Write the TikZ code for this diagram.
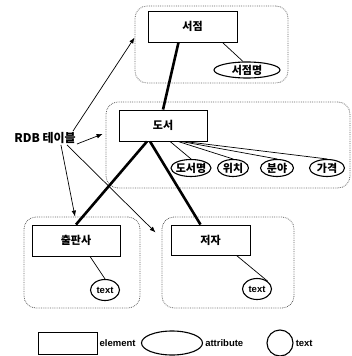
\documentclass[tikz,border=0pt]{standalone}
\usepackage{fontspec}
\setmainfont{Liberation Sans}
\newfontfamily\kr{Noto Sans CJK KR}
\usetikzlibrary{shapes.geometric,arrows.meta}
\newcommand{\krFont}[0]{\kr\bfseries\fontsize{11}{13}\selectfont}
\newcommand{\keyFont}[0]{\bfseries\fontsize{9.5}{11}\selectfont}

\begin{document}
\begin{tikzpicture}[x=1pt, y=-1pt]
  \tikzset{
    grp/.style={draw=black!60, densely dotted, line width=0.8pt, rounded corners=12pt, inner sep=0pt},
    elem/.style={draw, line width=0.9pt, fill=white, inner sep=0pt, font=\krFont},
    attr/.style={ellipse, draw, line width=1.1pt, fill=white, inner sep=-3pt, minimum height=17pt, font=\krFont},
    txt/.style={ellipse, draw, line width=1.1pt, fill=white, inner sep=-2pt, minimum width=29pt, minimum height=21pt, font=\keyFont},
    tree/.style={line width=2.6pt},
    link/.style={line width=0.7pt},
    tbl/.style={-{Latex[length=6pt,width=4.5pt]}, line width=0.7pt}
  }
  \useasboundingbox (0,0) rectangle (352,356);

  \node[grp, minimum width=153pt, minimum height=77pt] (grp-shop) at (211.5,44.5) {};
  \node[grp, minimum width=244pt, minimum height=86pt] (grp-book) at (228,145) {};
  \node[grp, minimum width=116pt, minimum height=91pt] (grp-pub) at (82,262.5) {};
  \node[grp, minimum width=132pt, minimum height=91pt] (grp-author) at (228,262.5) {};

  \node[elem, minimum width=89pt, minimum height=31pt] (shop) at (192.5,26.5) {서점};
  \node[elem, minimum width=88pt, minimum height=31pt] (book) at (163,125.5) {도서};
  \node[elem, minimum width=88pt, minimum height=31pt] (pub) at (76,240.5) {출판사};
  \node[elem, minimum width=79pt, minimum height=30pt] (author) at (210.5,240) {저자};

  \node[attr, minimum width=66pt, minimum height=16pt] (at-shopname) at (247,70) {서점명};
  \node[attr, minimum width=40pt] (at-bookname) at (191,168) {도서명};
  \node[attr, minimum width=31pt] (at-place) at (233,168) {위치};
  \node[attr, minimum width=33pt] (at-field) at (277,168) {분야};
  \node[attr, minimum width=35pt] (at-price) at (327,168) {가격};

  \node[txt] (text-pub) at (105,290) {text};
  \node[txt] (text-author) at (257,289) {text};

  \node[font=\kr\bfseries\fontsize{12}{14}\selectfont, inner sep=1pt] (rdb) at (45,138) {RDB 테이블};

  \draw[tree] ([xshift=-14pt]shop.south) -- (book.north);
  \draw[tree] ([xshift=-16pt]book.south) -- (pub.north);
  \draw[tree] ([xshift=-13pt]book.south) -- ([xshift=-10pt]author.north);

  \draw[link] ([xshift=-15pt]shop.south east) -- (at-shopname.115);
  \draw[link] ([xshift=7pt]book.south) -- (at-bookname.north);
  \draw[link] ([xshift=15pt]book.south) -- (at-place.north);
  \draw[link] ([xshift=18pt]book.south) -- (at-field.north);
  \draw[link] ([xshift=21pt]book.south) -- (at-price.north);
  \draw[link] ([xshift=14pt]pub.south) -- (text-pub.north);
  \draw[link] ([xshift=26pt]author.south) -- (text-author.north east);

  \draw[tbl] ([xshift=-4pt]rdb.north east) -- ([yshift=7pt]grp-shop.west);
  \draw[tbl] ([yshift=-6pt]rdb.east) -- ([yshift=11pt, xshift=-3pt]grp-book.west);
  \draw[tbl] ([xshift=-16pt]rdb.south east) -- ([xshift=-7pt]grp-pub.north);
  \draw[tbl] ([xshift=-10pt]rdb.south east) -- ([xshift=-6pt, yshift=30pt]grp-author.west);

  \node[elem, minimum width=59pt, minimum height=22pt] (key-elem) at (67.5,343) {};
  \node[anchor=west, inner sep=2pt, font=\keyFont] (key-elem-lbl) at (key-elem.east) {element};
  \node[attr, minimum width=61pt, minimum height=24pt] (key-attr) at (172,343) {};
  \node[anchor=west, inner sep=2pt, font=\keyFont] (key-attr-lbl) at (key-attr.east) {attribute};
  \node[txt, minimum width=26pt, minimum height=26pt] (key-text) at (280,343) {};
  \node[anchor=west, inner sep=2pt, font=\keyFont] (key-text-lbl) at (key-text.east) {text};
\end{tikzpicture}
\end{document}
